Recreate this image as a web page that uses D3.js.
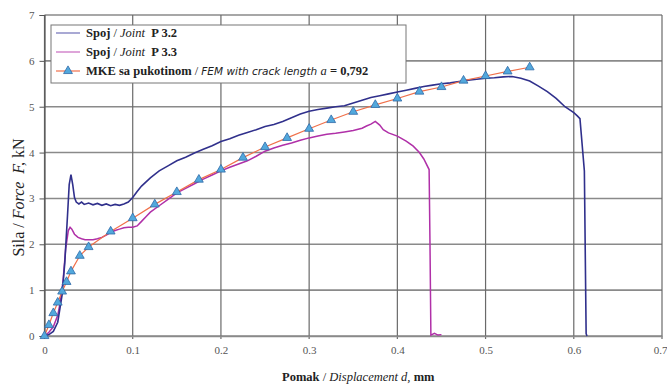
<!DOCTYPE html>
<html>
<head>
<meta charset="utf-8">
<script src="https://cdn.jsdelivr.net/npm/d3@7"></script>
<style>
  body { margin: 0; background: #fff; }
  svg { display: block; font-family: "Liberation Serif", serif; }
</style>
</head>
<body>
<div id="chart"></div>
<script>
// tick values
const xTicks = [0, 0.1, 0.2, 0.3, 0.4, 0.5, 0.6, 0.7];
const yTicks = [0, 1, 2, 3, 4, 5, 6, 7];

// Spoj / Joint P 3.2
const p32X = [0, 0.005, 0.01, 0.015, 0.02, 0.023, 0.026, 0.028, 0.030, 0.032, 0.034, 0.036, 0.039, 0.042, 0.045,
  0.05, 0.055, 0.06, 0.065, 0.07, 0.075, 0.08, 0.085, 0.09, 0.095, 0.1, 0.105, 0.11, 0.12, 0.13, 0.14, 0.15,
  0.16, 0.17, 0.18, 0.19, 0.2, 0.21, 0.22, 0.23, 0.24, 0.25, 0.26, 0.27, 0.28, 0.29, 0.3, 0.31, 0.32, 0.33,
  0.34, 0.35, 0.36, 0.37, 0.38, 0.39, 0.4, 0.41, 0.42, 0.43, 0.44, 0.45, 0.46, 0.47, 0.48, 0.49, 0.5, 0.51,
  0.52, 0.53, 0.54, 0.55, 0.56, 0.57, 0.58, 0.59, 0.6, 0.604, 0.607, 0.612, 0.614, 0.615];
const p32Y = [0, 0.03, 0.1, 0.3, 0.9, 1.6, 2.6, 3.3, 3.52, 3.3, 3.02, 2.92, 2.88, 2.92, 2.87,
  2.9, 2.86, 2.89, 2.85, 2.88, 2.84, 2.87, 2.85, 2.88, 2.92, 3.02, 3.15, 3.27, 3.45, 3.6, 3.71, 3.82,
  3.9, 3.99, 4.07, 4.15, 4.24, 4.3, 4.38, 4.44, 4.5, 4.57, 4.61, 4.68, 4.76, 4.84, 4.9, 4.94, 4.97, 5.0,
  5.02, 5.08, 5.14, 5.2, 5.24, 5.28, 5.32, 5.36, 5.4, 5.44, 5.47, 5.5, 5.52, 5.55, 5.58, 5.6, 5.62, 5.63,
  5.65, 5.66, 5.62, 5.56, 5.45, 5.33, 5.18, 5.0, 4.87, 4.8, 4.74, 3.6, 0.05, 0];

// Spoj / Joint P 3.3
const p33X = [0, 0.005, 0.01, 0.015, 0.018, 0.021, 0.024, 0.027, 0.029, 0.031, 0.034, 0.038, 0.042, 0.046,
  0.05, 0.055, 0.06, 0.065, 0.07, 0.075, 0.08, 0.085, 0.09, 0.095, 0.1, 0.105, 0.11, 0.115, 0.12, 0.13, 0.14,
  0.15, 0.16, 0.17, 0.18, 0.19, 0.2, 0.21, 0.22, 0.23, 0.24, 0.25, 0.26, 0.27, 0.28, 0.29, 0.3, 0.31, 0.32,
  0.33, 0.34, 0.35, 0.36, 0.365, 0.37, 0.375, 0.38, 0.384, 0.39, 0.4, 0.41, 0.418, 0.425, 0.43, 0.436,
  0.437, 0.438, 0.442, 0.446, 0.45];
const p33Y = [0, 0.08, 0.2, 0.45, 0.75, 1.2, 1.9, 2.3, 2.37, 2.33, 2.22, 2.15, 2.12, 2.1,
  2.1, 2.1, 2.12, 2.15, 2.2, 2.26, 2.3, 2.33, 2.36, 2.37, 2.37, 2.4, 2.5, 2.6, 2.7, 2.84, 2.98,
  3.12, 3.22, 3.32, 3.42, 3.51, 3.6, 3.68, 3.75, 3.82, 3.92, 4.03, 4.1, 4.16, 4.21, 4.27, 4.32, 4.36, 4.4,
  4.42, 4.45, 4.48, 4.53, 4.58, 4.62, 4.68, 4.6, 4.5, 4.43, 4.36, 4.25, 4.14, 4.0, 3.86, 3.63,
  2.0, 0.02, 0.06, 0.02, 0.03];

// MKE sa pukotinom / FEM with crack length a = 0,792
const femX = [0, 0.005, 0.01, 0.015, 0.02, 0.025, 0.03, 0.04, 0.05, 0.075, 0.1, 0.125, 0.15, 0.175, 0.2,
  0.225, 0.25, 0.275, 0.3, 0.325, 0.35, 0.375, 0.4, 0.425, 0.45, 0.475, 0.5, 0.525, 0.55];
const femY = [0, 0.24, 0.5, 0.73, 0.97, 1.18, 1.41, 1.75, 1.94, 2.28, 2.57, 2.87, 3.14, 3.41, 3.63,
  3.89, 4.12, 4.32, 4.52, 4.71, 4.89, 5.04, 5.18, 5.33, 5.43, 5.57, 5.67, 5.77, 5.86];

const W = 667, H = 389;
const pL = 44.5, pR = 662, pT = 15, pB = 336;

const svg = d3.select('#chart').append('svg').attr('width', W).attr('height', H);

const x = d3.scaleLinear().domain([0, 0.7]).range([pL, pR]);
const y = d3.scaleLinear().domain([0, 7]).range([pB, pT]);

// grid
svg.append('g').selectAll('line').data(yTicks).enter().append('line')
  .attr('x1', pL).attr('x2', pR)
  .attr('y1', d => y(d)).attr('y2', d => y(d))
  .attr('stroke', '#8a8a8a').attr('stroke-width', 1.6);
svg.append('g').selectAll('line').data(xTicks).enter().append('line')
  .attr('x1', d => x(d)).attr('x2', d => x(d))
  .attr('y1', pT).attr('y2', pB + 3)
  .attr('stroke', '#6a6a6a').attr('stroke-width', 1.2);

// y axis
const yAxis = svg.append('g')
  .attr('transform', 'translate(' + pL + ',0)')
  .call(d3.axisLeft(y).tickValues(yTicks).tickSize(5).tickFormat(d3.format('d')));
yAxis.select('.domain').attr('stroke', '#555').attr('stroke-width', 1.2);
yAxis.selectAll('.tick line').attr('stroke', '#555');
yAxis.selectAll('.tick text').attr('font-family', '"Liberation Serif", serif')
  .attr('font-size', 11).attr('fill', '#555').attr('x', -10);

// x axis
const xAxis = svg.append('g')
  .attr('transform', 'translate(0,' + pB + ')')
  .call(d3.axisBottom(x).tickValues(xTicks).tickSize(0).tickFormat(d => d === 0 ? '0' : d3.format('.1f')(d)));
xAxis.select('.domain').attr('stroke', '#8a8a8a').attr('stroke-width', 1.6);
xAxis.selectAll('.tick text').attr('font-family', '"Liberation Serif", serif')
  .attr('font-size', 11).attr('fill', '#555').attr('y', 10);
// last label sits at the window edge in the original; keep it inside
xAxis.selectAll('.tick text').filter(d => d === 0.7).attr('text-anchor', 'end').attr('dx', 5);

// series
const line = d3.line().x(d => x(d[0])).y(d => y(d[1]));

svg.append('path').datum(d3.zip(p33X, p33Y)).attr('d', line)
  .attr('fill', 'none').attr('stroke', '#b030a8').attr('stroke-width', 1.5);
svg.append('path').datum(d3.zip(p32X, p32Y)).attr('d', line)
  .attr('fill', 'none').attr('stroke', '#30308c').attr('stroke-width', 1.6);

const femData = d3.zip(femX, femY);
svg.append('path').datum(femData).attr('d', line)
  .attr('fill', 'none').attr('stroke', '#f0704a').attr('stroke-width', 1.2);

const tri = d3.symbol().type(d3.symbolTriangle).size(34);
svg.append('g').selectAll('path').data(femData).enter().append('path')
  .attr('d', tri)
  .attr('transform', d => 'translate(' + x(d[0]) + ',' + y(d[1]) + ')')
  .attr('fill', '#52a8dc').attr('stroke', '#2f6aa8').attr('stroke-width', 0.8);

// legend
const lg = svg.append('g');
lg.append('rect').attr('x', 51).attr('y', 25).attr('width', 355).attr('height', 58)
  .attr('fill', '#fff').attr('stroke', '#777').attr('stroke-width', 1);

const rows = [33, 52, 71];
lg.append('line').attr('x1', 56).attr('x2', 80).attr('y1', rows[0]).attr('y2', rows[0])
  .attr('stroke', '#7070b8').attr('stroke-width', 1.2);
lg.append('line').attr('x1', 56).attr('x2', 80).attr('y1', rows[1]).attr('y2', rows[1])
  .attr('stroke', '#c868c0').attr('stroke-width', 1.2);
lg.append('line').attr('x1', 56).attr('x2', 80).attr('y1', rows[2]).attr('y2', rows[2])
  .attr('stroke', '#f0704a').attr('stroke-width', 1.2);
lg.append('path').attr('d', tri)
  .attr('transform', 'translate(68,' + rows[2] + ')')
  .attr('fill', '#52a8dc').attr('stroke', '#2f6aa8').attr('stroke-width', 0.8);

function legendText(yy, parts) {
  const t = lg.append('text').attr('x', 86).attr('y', yy + 4).attr('font-size', 12.5).attr('fill', '#222');
  parts.forEach(p => {
    const s = t.append('tspan').text(p[0]);
    if (p[1]) s.attr('font-weight', 'bold');
    if (p[2]) s.attr('font-style', 'italic');
    if (p[3]) s.attr('font-family', p[3]).attr('font-size', p[4]);
  });
}
legendText(rows[0], [['Spoj', 1, 0], [' / ', 0, 0], ['Joint', 0, 1], ['\u00a0\u00a0P 3.2', 1, 0]]);
legendText(rows[1], [['Spoj', 1, 0], [' / ', 0, 0], ['Joint', 0, 1], ['\u00a0\u00a0P 3.3', 1, 0]]);
legendText(rows[2], [['MKE sa pukotinom', 1, 0], [' / ', 0, 0],
  ['FEM with crack length ', 0, 1, '"DejaVu Sans", sans-serif', 10.5], ['a', 0, 1],
  [' = 0,792', 1, 0]]);

// axis titles
const yt = svg.append('text')
  .attr('transform', 'translate(24,' + ((pT + pB) / 2 + 22) + ') rotate(-90)')
  .attr('text-anchor', 'middle').attr('font-size', 16).attr('fill', '#222');
yt.append('tspan').text('Sila / ');
yt.append('tspan').attr('font-style', 'italic').text('Force\u00a0 F,');
yt.append('tspan').text(' kN');

const xt = svg.append('text')
  .attr('x', (pL + pR) / 2 + 5).attr('y', 381)
  .attr('text-anchor', 'middle').attr('font-size', 12.5).attr('fill', '#222');
xt.append('tspan').attr('font-weight', 'bold').text('Pomak');
xt.append('tspan').text(' / ');
xt.append('tspan').attr('font-style', 'italic').text('Displacement d,');
xt.append('tspan').attr('font-weight', 'bold').text(' mm');
</script>
</body>
</html>
